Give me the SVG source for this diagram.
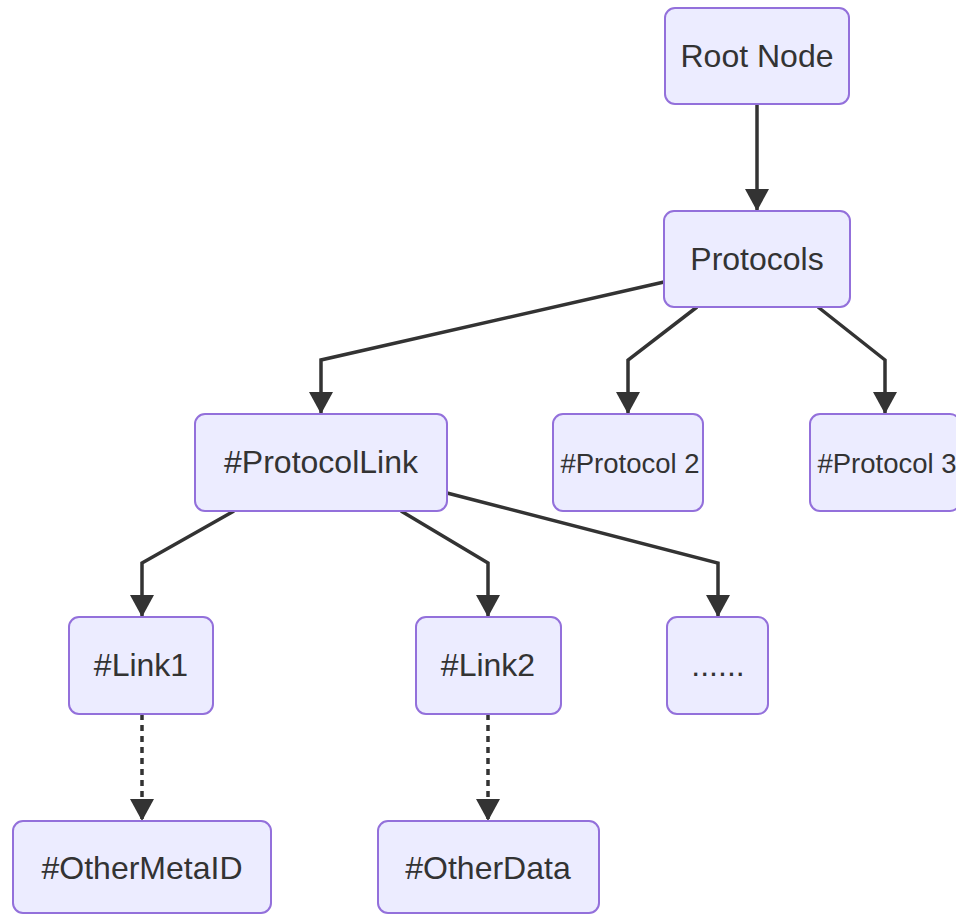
<svg xmlns="http://www.w3.org/2000/svg" width="956" height="915" viewBox="0 0 956 915">
  <defs>
    <style>
      .node rect { fill: #ECECFF; stroke: #9370DB; stroke-width: 2; }
      .node text { font-family: "Liberation Sans", Arial, Helvetica, sans-serif; font-size: 32px; fill: #333333; text-anchor: middle; dominant-baseline: central; }
      .node text.small { font-size: 27.5px; }
      .edge { fill: none; stroke: #333333; stroke-width: 3.5; stroke-linejoin: miter; }
      .dotted { stroke-dasharray: 6 5; }
    </style>
    <marker id="arrow" markerUnits="userSpaceOnUse" markerWidth="26" markerHeight="24" refX="22" refY="12" orient="auto">
      <path d="M0,0 L22,12 L0,24 Z" fill="#333333"/>
    </marker>
  </defs>

  <rect x="0" y="0" width="956" height="915" fill="#FFFFFF"/>

  <!-- connectors -->
  <g id="edges">
    <path class="edge" d="M757,104 L757,211" marker-end="url(#arrow)"/>
    <path class="edge" d="M664,282 L321,360 L321,414" marker-end="url(#arrow)"/>
    <path class="edge" d="M697,307 L628,360 L628,414" marker-end="url(#arrow)"/>
    <path class="edge" d="M818,307 L885,360 L885,414" marker-end="url(#arrow)"/>
    <path class="edge" d="M234,511 L142,563 L142,617" marker-end="url(#arrow)"/>
    <path class="edge" d="M401,511 L488,563 L488,617" marker-end="url(#arrow)"/>
    <path class="edge" d="M447,493 L718,563 L718,617" marker-end="url(#arrow)"/>
    <path class="edge dotted" d="M142,714 L142,821" marker-end="url(#arrow)"/>
    <path class="edge dotted" d="M488,714 L488,821" marker-end="url(#arrow)"/>
  </g>

  <!-- nodes -->
  <g id="root" class="node">
    <rect x="665" y="8" width="184" height="96" rx="10" ry="10"/>
    <text x="757" y="56">Root Node</text>
  </g>
  <g id="protocols" class="node">
    <rect x="664" y="211" width="186" height="96" rx="10" ry="10"/>
    <text x="757" y="259">Protocols</text>
  </g>
  <g id="protocolLink" class="node">
    <rect x="195" y="414" width="252" height="97" rx="10" ry="10"/>
    <text x="321" y="462">#ProtocolLink</text>
  </g>
  <g id="protocol2" class="node">
    <rect x="553" y="414" width="150" height="97" rx="10" ry="10"/>
    <text class="small" x="630" y="463">#Protocol 2</text>
  </g>
  <g id="protocol3" class="node">
    <rect x="810" y="414" width="150" height="97" rx="10" ry="10"/>
    <text class="small" x="887" y="463">#Protocol 3</text>
  </g>
  <g id="link1" class="node">
    <rect x="69" y="617" width="144" height="97" rx="10" ry="10"/>
    <text x="141" y="665">#Link1</text>
  </g>
  <g id="link2" class="node">
    <rect x="416" y="617" width="145" height="97" rx="10" ry="10"/>
    <text x="488" y="665">#Link2</text>
  </g>
  <g id="more" class="node">
    <rect x="667" y="617" width="101" height="97" rx="10" ry="10"/>
    <text x="718" y="665">......</text>
  </g>
  <g id="otherMetaID" class="node">
    <rect x="13" y="821" width="258" height="92" rx="10" ry="10"/>
    <text x="142" y="868">#OtherMetaID</text>
  </g>
  <g id="otherData" class="node">
    <rect x="378" y="821" width="221" height="92" rx="10" ry="10"/>
    <text x="488" y="868">#OtherData</text>
  </g>
</svg>
